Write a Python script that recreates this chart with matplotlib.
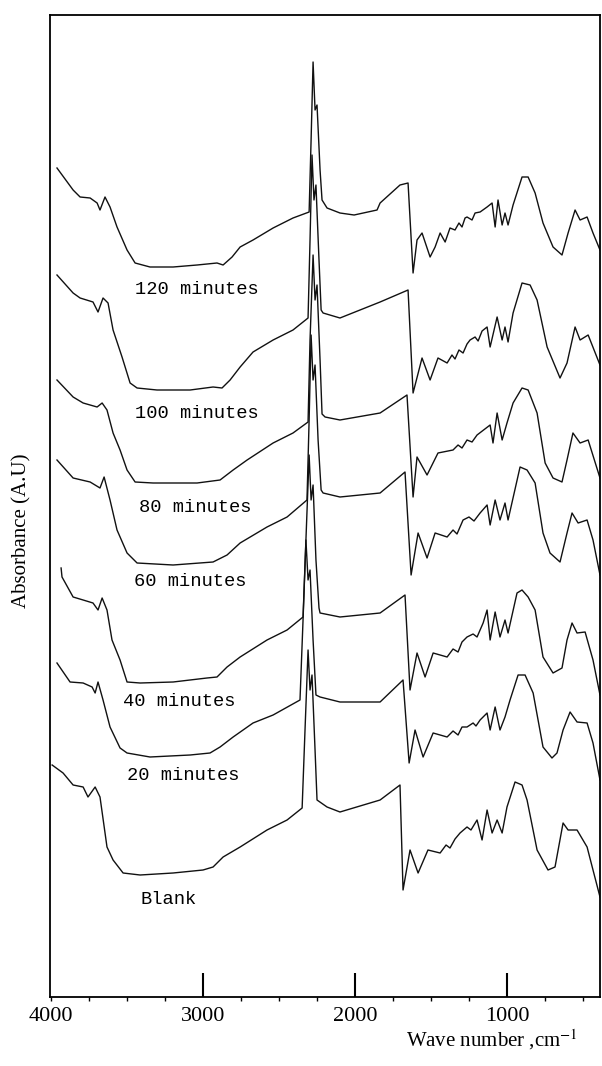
import matplotlib
matplotlib.use('Agg')
import matplotlib.pyplot as plt
from matplotlib import rcParams

rcParams['font.family'] = ['Liberation Serif', 'DejaVu Serif']
rcParams['mathtext.fontset'] = 'stix'

# wave number (cm-1) and absorbance (A.U, stacked) for each exposure time
wn_120 = [3961, 3855, 3809, 3743, 3697, 3678, 3645, 3612, 3566, 3500, 3447, 3349, 3197, 3039, 2908, 2868,
          2809, 2756, 2671, 2539, 2408, 2302, 2289, 2276, 2263, 2250, 2230, 2217, 2184, 2099, 2006, 1855,
          1835, 1704, 1651, 1618, 1592, 1559, 1506, 1473, 1440, 1407, 1375, 1342, 1316, 1296, 1276, 1263,
          1230, 1210, 1177, 1131, 1098,
          1078, 1059, 1032, 1013, 993, 960, 901, 861, 815, 763, 697, 638, 598, 552, 519, 473, 434, 388]
ab_120 = [8.29, 8.07, 8.00, 7.99, 7.94, 7.87, 8.00, 7.90, 7.70, 7.47, 7.34, 7.30, 7.30, 7.32, 7.34, 7.32,
          7.40, 7.50, 7.57, 7.69, 7.79, 7.85, 8.57, 9.35, 8.87, 8.92, 8.27, 7.97, 7.89, 7.84, 7.82, 7.87,
          7.94, 8.12, 8.14, 7.24, 7.57, 7.64, 7.40, 7.50, 7.64, 7.55, 7.69, 7.67, 7.74, 7.70, 7.79, 7.80,
          7.77, 7.84, 7.85, 7.90, 7.94,
          7.70, 7.97, 7.72, 7.84, 7.72, 7.92, 8.20, 8.20, 8.04, 7.74, 7.50, 7.42, 7.64, 7.87, 7.77, 7.80, 7.64, 7.47]

wn_100 = [3961, 3855, 3809, 3724, 3691, 3658, 3625, 3592, 3533, 3480, 3434, 3303, 3085, 2934, 2875, 2822,
          2756, 2671, 2539, 2408, 2309, 2296, 2283, 2270, 2257, 2237, 2223, 2210, 2099, 1835, 1651, 1618,
          1559, 1506, 1454, 1394, 1362, 1342, 1316, 1289, 1263, 1243, 1210, 1190, 1164, 1131, 1111, 1065,
          1032, 1013, 993, 960, 901, 848, 802, 736, 651, 605, 552, 519, 466, 388]
ab_100 = [7.22, 7.04, 6.99, 6.95, 6.85, 6.99, 6.94, 6.67, 6.40, 6.14, 6.09, 6.07, 6.07, 6.10, 6.09, 6.17,
          6.30, 6.45, 6.57, 6.67, 6.79, 7.57, 8.42, 7.97, 8.12, 7.37, 6.87, 6.84, 6.79, 6.95, 7.07, 6.04,
          6.39, 6.17, 6.39, 6.34, 6.42, 6.38, 6.47, 6.44, 6.53, 6.57, 6.60, 6.56, 6.66, 6.70, 6.50, 6.80,
          6.57, 6.70, 6.55, 6.84, 7.14, 7.12, 6.97, 6.50, 6.19, 6.34, 6.70, 6.57, 6.62, 6.32]

wn_80 = [3961, 3855, 3789, 3697, 3664, 3632, 3592, 3546, 3500, 3447, 3329, 3039, 2888, 2802, 2710, 2539,
         2408, 2309, 2296, 2276, 2263, 2250, 2230, 2217, 2197, 2099, 1835, 1658, 1618, 1592, 1526, 1454,
         1355, 1322, 1296, 1263, 1230, 1197, 1111, 1092, 1065, 1032, 1000, 960, 901, 861, 802, 749, 697,
         638, 605, 566, 519, 466, 388]
ab_80 = [6.17, 6.00, 5.94, 5.90, 5.94, 5.87, 5.64, 5.47, 5.27, 5.15, 5.14, 5.14, 5.17, 5.27, 5.37, 5.54,
         5.64, 5.75, 6.57, 7.42, 6.97, 7.12, 6.37, 5.83, 5.80, 5.77, 5.84, 6.02, 5.00, 5.40, 5.22, 5.44,
         5.47, 5.52, 5.49, 5.57, 5.55, 5.62, 5.72, 5.54, 5.84, 5.57, 5.74, 5.94, 6.09, 6.07, 5.84, 5.34, 5.19,
         5.15, 5.37, 5.64, 5.54, 5.57, 5.19]

wn_60 = [3961, 3855, 3743, 3678, 3651, 3612, 3566, 3500, 3434, 3197, 2934, 2842, 2756, 2579, 2447, 2316,
         2302, 2289, 2276, 2263, 2243, 2223, 2210, 2099, 1835, 1671, 1631, 1585, 1526, 1473, 1394, 1355,
         1329, 1289, 1250, 1217, 1177, 1131, 1111, 1078, 1046, 1013, 993, 914, 868, 815, 763, 717, 651,
         605, 572, 532, 473, 434, 388]
ab_60 = [5.37, 5.19, 5.15, 5.09, 5.20, 4.97, 4.67, 4.44, 4.34, 4.32, 4.35, 4.42, 4.54, 4.70, 4.80, 4.97,
         5.77, 6.62, 6.17, 6.32, 5.57, 5.07, 5.04, 5.00, 5.04, 5.25, 4.22, 4.64, 4.39, 4.64, 4.60, 4.67,
         4.63, 4.77, 4.80, 4.76, 4.84, 4.92, 4.72, 4.97, 4.77, 4.94, 4.77, 5.30, 5.27, 5.14, 4.64, 4.44, 4.35,
         4.64, 4.84, 4.74, 4.77, 4.57, 4.22]

wn_40 = [3934, 3928, 3855, 3789, 3724, 3691, 3664, 3632, 3599, 3546, 3500, 3414, 3197, 2974, 2908, 2842,
         2756, 2579, 2447, 2342, 2323, 2302, 2289, 2276, 2257, 2237, 2230, 2099, 1835, 1671, 1638, 1592,
         1539, 1486, 1394, 1355, 1322, 1296, 1263, 1223, 1197, 1157, 1131, 1111, 1078, 1046, 1013, 993,
         934, 901, 861, 815, 763, 697, 638, 605, 572, 539, 486, 434, 388]
ab_40 = [4.29, 4.20, 4.00, 3.97, 3.94, 3.87, 3.99, 3.87, 3.57, 3.37, 3.15, 3.14, 3.15, 3.19, 3.20, 3.30,
         3.40, 3.57, 3.67, 3.80, 4.57, 5.42, 4.97, 5.12, 4.37, 3.89, 3.84, 3.80, 3.84, 4.02, 3.07, 3.44,
         3.20, 3.44, 3.40, 3.48, 3.45, 3.55, 3.60, 3.63, 3.60, 3.74, 3.87, 3.57, 3.85, 3.60, 3.77, 3.64,
         4.04, 4.07, 4.00, 3.87, 3.40, 3.24, 3.29, 3.57, 3.74, 3.64, 3.65, 3.37, 3.02]

wn_20 = [3961, 3875, 3789, 3730, 3710, 3691, 3658, 3612, 3546, 3500, 3349, 3085, 2954, 2888, 2802, 2671,
         2539, 2362, 2342, 2323, 2309, 2296, 2276, 2257, 2230, 2099, 1835, 1684, 1644, 1605, 1552, 1486,
         1394, 1355, 1322, 1296, 1263, 1223, 1204, 1177, 1131, 1111, 1078, 1046, 1013, 980, 927, 881, 828,
         763, 704, 671, 631, 585, 539, 473, 434, 388]
ab_20 = [3.34, 3.15, 3.14, 3.10, 3.04, 3.15, 2.97, 2.70, 2.49, 2.44, 2.40, 2.42, 2.44, 2.50, 2.60, 2.74,
         2.82, 2.97, 3.77, 4.57, 4.17, 4.27, 3.57, 3.02, 3.00, 2.95, 2.95, 3.17, 2.34, 2.67, 2.40, 2.64,
         2.60, 2.66, 2.62, 2.70, 2.70, 2.74, 2.71, 2.77, 2.84, 2.67, 2.90, 2.67, 2.80, 2.97, 3.22, 3.22, 3.04,
         2.50, 2.39, 2.44, 2.67, 2.85, 2.75, 2.74, 2.54, 2.17]

wn_blank = [3993, 3921, 3855, 3789, 3757, 3710, 3678, 3632, 3592, 3526, 3414, 3197, 3000, 2934, 2868, 2756,
            2579, 2447, 2348, 2329, 2309, 2296, 2283, 2263, 2250, 2184, 2099, 1835, 1704, 1684, 1638, 1585,
            1520, 1440, 1401, 1375, 1342, 1309, 1263, 1237, 1197, 1164, 1131, 1098, 1065, 1032, 1000, 947,
            901, 868, 802, 730, 684, 631, 598, 539, 473, 434, 388]
ab_blank = [2.32, 2.24, 2.12, 2.10, 2.00, 2.10, 2.00, 1.50, 1.37, 1.24, 1.22, 1.24, 1.27, 1.30, 1.40, 1.50,
            1.67, 1.77, 1.89, 2.67, 3.47, 3.07, 3.22, 2.47, 1.97, 1.90, 1.85, 1.97, 2.12, 1.07, 1.47, 1.24,
            1.47, 1.44, 1.52, 1.49, 1.58, 1.64, 1.70, 1.67, 1.77, 1.57, 1.87, 1.64, 1.77, 1.64, 1.90, 2.15,
            2.12, 1.97, 1.47, 1.27, 1.30, 1.74, 1.67, 1.67, 1.50, 1.27, 1.00]

spectra = [(wn_120, ab_120), (wn_100, ab_100), (wn_80, ab_80), (wn_60, ab_60),
           (wn_40, ab_40), (wn_20, ab_20), (wn_blank, ab_blank)]

fig = plt.figure(figsize=(6.02, 10.66), dpi=100)
ax = fig.add_axes([50/602, 69/1066, 550/602, 982/1066])

for wn, ab in spectra:
    ax.plot(wn, ab, color='#111111', lw=1.0)

# curve labels
ax.text(3447, 7.07, '120 minutes', family='Liberation Mono', fontsize=13.5, va='center')
ax.text(3447, 5.84, '100 minutes', family='Liberation Mono', fontsize=13.5, va='center')
ax.text(3421, 4.90, '80 minutes', family='Liberation Mono', fontsize=13.5, va='center')
ax.text(3454, 4.15, '60 minutes', family='Liberation Mono', fontsize=13.5, va='center')
ax.text(3526, 2.95, '40 minutes', family='Liberation Mono', fontsize=13.5, va='center')
ax.text(3500, 2.22, '20 minutes', family='Liberation Mono', fontsize=13.5, va='center')
ax.text(3414, 0.97, 'Blank', family='Liberation Mono', fontsize=13.5, va='center')

ax.set_xlim(4007, 388)
ax.set_ylim(0, 9.82)
ax.set_yticks([])

ax.set_xticks([4000, 3000, 2000, 1000])
ax.set_xticklabels(['4000', '3000', '2000', '1000'], fontsize=16)
ax.xaxis.remove_overlapping_locs = False
ax.set_xticks([4000, 3750, 3500, 3250, 2750, 2500, 2250, 1750, 1500, 1250, 750, 500], minor=True)
ax.tick_params(axis='x', which='major', direction='in', length=17, width=1.5, pad=7)
ax.tick_params(axis='x', which='minor', direction='out', length=3, width=1)
ax.xaxis.get_major_ticks()[0].tick1line.set_visible(False)

for s in ax.spines.values():
    s.set_linewidth(1.3)

fig.text(22/602, 1 - 531/1066, 'Absorbance (A.U)', rotation=90, fontsize=15,
         ha='center', va='center')
fig.text(492/602, 1 - 1040/1066, 'Wave number ,cm$^{-1}$', fontsize=15,
         ha='center', va='center')

fig.savefig('out.png', dpi=100)
